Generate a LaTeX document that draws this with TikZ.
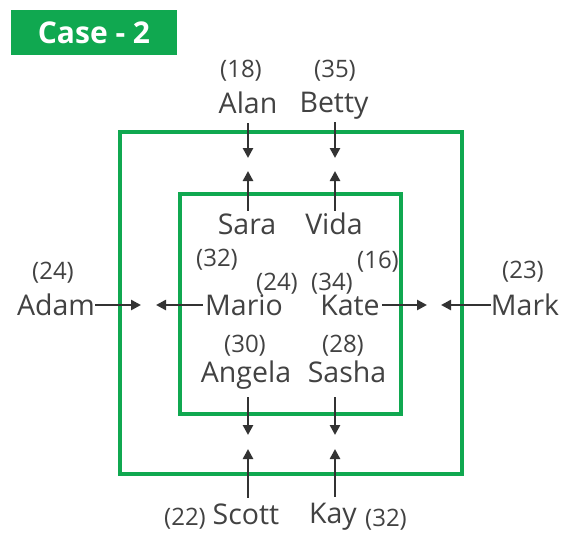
\documentclass[tikz,border=0pt]{standalone}
\usepackage{fontspec}
\setmainfont{Open Sans}
\usetikzlibrary{arrows.meta}
\definecolor{casegreen}{RGB}{16,168,80}
\definecolor{txtgray}{RGB}{66,66,66}
\definecolor{arrgray}{RGB}{51,51,51}
\tikzset{
  person/.style={text=txtgray,font=\fontsize{28.5}{28.5}\selectfont,inner sep=0pt,text height=20pt,text depth=0pt},
  age/.style={text=txtgray,font=\fontsize{24}{24}\selectfont,inner sep=0pt,text height=17pt,text depth=0pt},
  arr/.style={draw=arrgray,line width=2.6pt,-{Triangle[length=10pt,width=10pt]}},
  frame/.style={draw=casegreen,line width=3.2pt},
}
\begin{document}
\begin{tikzpicture}[x=1pt,y=-1pt]
\useasboundingbox[fill=white] (0,0) rectangle (564,533);
% Heading
\node[fill=casegreen,text=white,font=\fontsize{30}{30}\selectfont\bfseries,minimum width=166pt,minimum height=45pt,inner sep=0pt] (title) at (94,32.5) {Case - 2};
% Frames
\draw[frame] (120,132) rectangle (462,474);
\draw[frame] (180,194) rectangle (401,414);
% Top row: Alan, Betty
\node[age] (a18) at (241,69) {(18)};
\node[person] (alan) at (248,103) {Alan};
\node[age] (a35) at (335,69) {(35)};
\node[person] (betty) at (334,102) {Betty};
% Inner top: Sara, Vida
\node[person] (sara) at (247,224) {Sara};
\node[person] (vida) at (334,224) {Vida};
% Middle: Mario, Kate
\node[age] (a32s) at (217,258) {(32)};
\node[age] (a16) at (378,260) {(16)};
\node[age] (a24m) at (277,282) {(24)};
\node[age] (a34) at (332,282) {(34)};
\node[person] (mario) at (244,305) {Mario};
\node[person] (kate) at (350,305) {Kate};
% Inner bottom: Angela, Sasha
\node[age] (a30) at (245,344) {(30)};
\node[age] (a28) at (343,344) {(28)};
\node[person] (angela) at (246,372) {Angela};
\node[person] (sasha) at (347,372) {Sasha};
% Bottom row: Scott, Kay
\node[age] (a22) at (185,517) {(22)};
\node[person] (scott) at (246,514) {Scott};
\node[person] (kay) at (333,513) {Kay};
\node[age] (a32k) at (386,518) {(32)};
% Sides: Adam, Mark
\node[age] (a24a) at (53,271) {(24)};
\node[person] (adam) at (56,305) {Adam};
\node[age] (a23) at (523,270) {(23)};
\node[person] (mark) at (525,305) {Mark};
% Arrow ends
\coordinate (alanE) at (248,158);
\coordinate (bettyE) at (335,158);
\coordinate (saraE) at (248,171);
\coordinate (vidaE) at (335,171);
\coordinate (angelaE) at (248,435);
\coordinate (sashaE) at (335,435);
\coordinate (scottE) at (248,449);
\coordinate (kayE) at (335,449);
\coordinate (adamE) at (141,305);
\coordinate (marioE) at (156,305);
\coordinate (kateE) at (427,305);
\coordinate (markE) at (441,305);
% Arrows
\draw[arr] ([yshift=-10pt]alan.south -| alanE) -- (alanE);
\draw[arr] ([yshift=-10pt]betty.south -| bettyE) -- (bettyE);
\draw[arr] ([yshift=3pt]sara.north -| saraE) -- (saraE);
\draw[arr] ([yshift=3pt]vida.north -| vidaE) -- (vidaE);
\draw[arr] ([yshift=-15pt]angela.south -| angelaE) -- (angelaE);
\draw[arr] ([yshift=-15pt]sasha.south -| sashaE) -- (sashaE);
\draw[arr] ([yshift=6pt]scott.north -| scottE) -- (scottE);
\draw[arr] ([yshift=6pt]kay.north -| kayE) -- (kayE);
\draw[arr] (adam.east) -- (adamE);
\draw[arr] ([xshift=-2pt]mario.west) -- (marioE);
\draw[arr] ([xshift=2pt]kate.east) -- (kateE);
\draw[arr] (mark.west) -- (markE);
\end{tikzpicture}
\end{document}
